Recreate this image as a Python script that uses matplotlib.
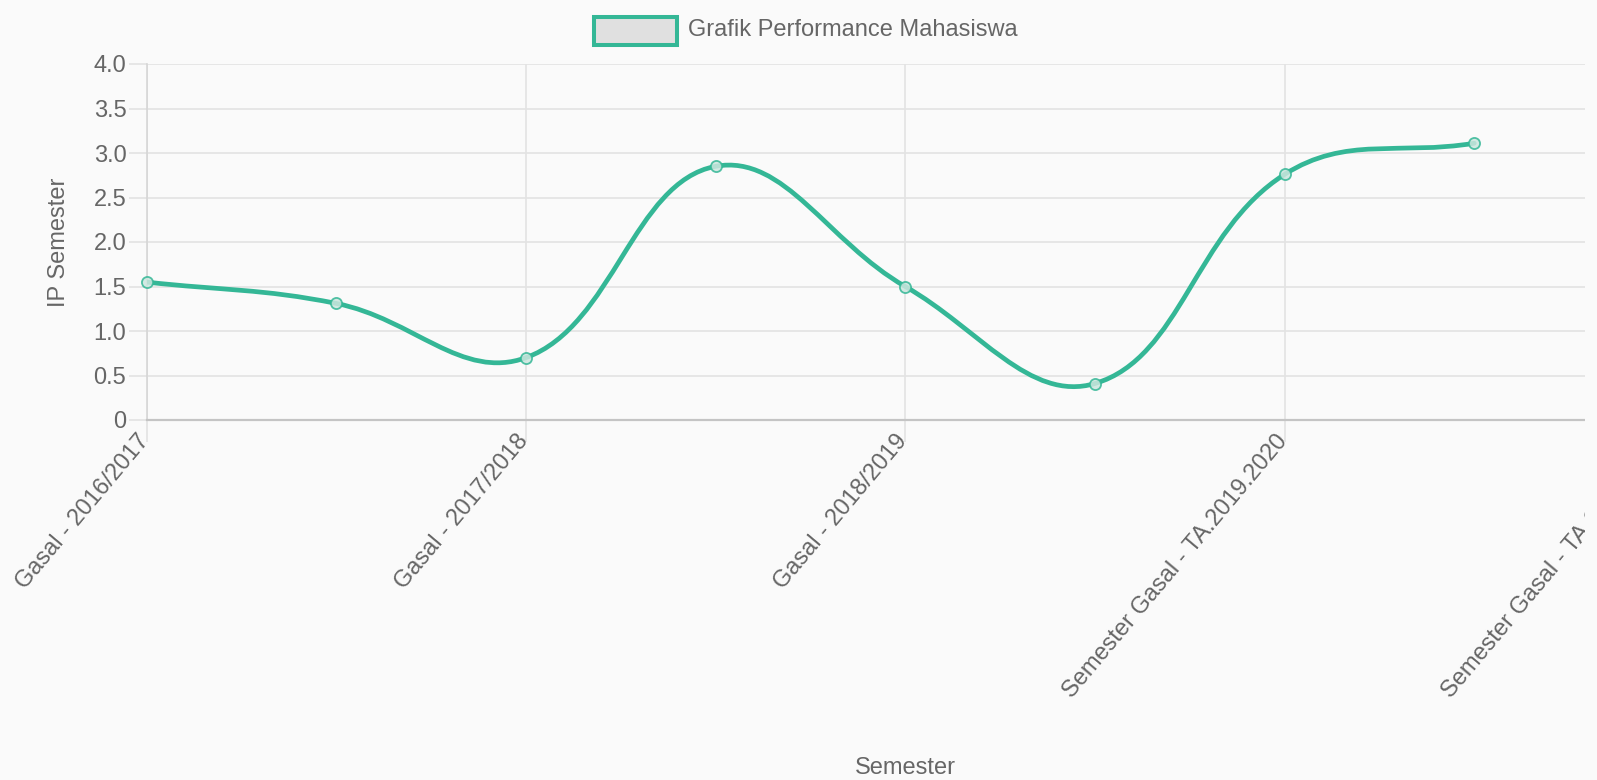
import numpy as np
import matplotlib

matplotlib.use("Agg")
import matplotlib.pyplot as plt
import matplotlib.transforms as mtransforms
from matplotlib.patches import PathPatch, Rectangle
from matplotlib.path import Path

SEMESTERS = [
    "Gasal - 2016/2017",
    "Genap - 2016/2017",
    "Gasal - 2017/2018",
    "Genap - 2017/2018",
    "Gasal - 2018/2019",
    "Genap - 2018/2019",
    "Semester Gasal - TA.2019.2020",
    "Semester Genap - TA.2019.2020",
    "Semester Gasal - TA.2020.2021",
]
IP_SEMESTER = [1.55, 1.31, 0.70, 2.85, 1.50, 0.41, 2.76, 3.11]
Y_TICKS = [0, 0.5, 1.0, 1.5, 2.0, 2.5, 3.0, 3.5, 4.0]
Y_TICK_LABELS = ["0", "0.5", "1.0", "1.5", "2.0", "2.5", "3.0", "3.5", "4.0"]
LABEL_STEP = 2
DATASET_LABEL = "Grafik Performance Mahasiswa"
X_TITLE = "Semester"
Y_TITLE = "IP Semester"

WIDTH, HEIGHT = 1597, 780
BG = "#fafafa"
LINE = "#34b796"
POINT_FACE = "#cde7df"
GRID = "#e3e3e3"
TEXT = "#666666"
FONT_SIZE = 17

plt.rcParams["font.family"] = ["Liberation Sans", "DejaVu Sans"]


def fx(px):
    return px / WIDTH


def fy(py):
    return 1 - py / HEIGHT


def spline_path(ax, xs, ys, tension=0.4):
    # chart.js style cardinal spline, computed in pixel space
    pts = ax.transData.transform(np.column_stack([xs, ys]))
    n = len(pts)
    ctrl_prev = pts.copy()
    ctrl_next = pts.copy()
    for i in range(n):
        prev = pts[i - 1] if i > 0 else pts[i]
        nxt = pts[i + 1] if i < n - 1 else pts[i]
        d01 = np.hypot(*(pts[i] - prev))
        d12 = np.hypot(*(nxt - pts[i]))
        total = d01 + d12
        s01 = d01 / total if total else 0.0
        s12 = d12 / total if total else 0.0
        ctrl_prev[i] = pts[i] - tension * s01 * (nxt - prev)
        ctrl_next[i] = pts[i] + tension * s12 * (nxt - prev)
    verts = [pts[0]]
    codes = [Path.MOVETO]
    for i in range(n - 1):
        verts += [ctrl_next[i], ctrl_prev[i + 1], pts[i + 1]]
        codes += [Path.CURVE4] * 3
    return Path(ax.transData.inverted().transform(np.array(verts)), codes)


fig = plt.figure(figsize=(WIDTH / 100, HEIGHT / 100), dpi=100, facecolor=BG)
ax = fig.add_axes([fx(146.5), fy(420), (1664 - 146.5) / WIDTH, (420 - 64) / HEIGHT])
ax.set_facecolor(BG)
ax.set_xlim(0, len(SEMESTERS) - 1)
ax.set_ylim(Y_TICKS[0], Y_TICKS[-1])

positions = np.arange(len(IP_SEMESTER))
ax.add_patch(PathPatch(spline_path(ax, positions, IP_SEMESTER), facecolor="none",
                       edgecolor=LINE, lw=3.4, capstyle="round", joinstyle="round", zorder=3))
ax.plot(positions, IP_SEMESTER, ls="none", marker="o", ms=8, mfc=POINT_FACE,
        mec=LINE, mew=1.3, alpha=0.85, zorder=4, clip_on=False)

shown = list(range(0, len(SEMESTERS), LABEL_STEP))
ax.set_xticks(shown, [SEMESTERS[i] for i in shown])
ax.set_yticks(Y_TICKS, Y_TICK_LABELS)
ax.grid(True, color=GRID, lw=1.2, zorder=0)
ax.tick_params(axis="x", length=16, width=1.2, color=GRID, pad=-3.6,
               labelsize=FONT_SIZE, labelcolor=TEXT)
ax.tick_params(axis="y", length=13, width=1.2, color=GRID, pad=1.5,
               labelsize=FONT_SIZE, labelcolor=TEXT)
label_shift = mtransforms.ScaledTranslation(-0.10, 0.07, fig.dpi_scale_trans)
for label in ax.get_xticklabels():
    label.set_rotation(50)
    label.set_ha("right")
    label.set_va("top")
    label.set_rotation_mode("anchor")
    label.set_transform(label.get_transform() + label_shift)

for side in ("top", "right"):
    ax.spines[side].set_visible(False)
ax.spines["left"].set_color("#d6d6d6")
ax.spines["left"].set_linewidth(1.2)
ax.spines["bottom"].set_color("#c4c4c4")
ax.spines["bottom"].set_linewidth(1.6)

fig.text(fx(59), fy(242), Y_TITLE, rotation=90, ha="center", va="center",
         fontsize=FONT_SIZE, color=TEXT)
fig.text(fx(905), fy(768), X_TITLE, ha="center", va="center",
         fontsize=FONT_SIZE, color=TEXT)

# legend drawn by hand, like the chart.js header
fig.add_artist(Rectangle((fx(594), fy(45)), fx(677) - fx(594), fy(17) - fy(45),
                         transform=fig.transFigure, facecolor="#e0e0e0",
                         edgecolor=LINE, lw=2.9, zorder=5))
fig.text(fx(688), fy(30), DATASET_LABEL, ha="left", va="center",
         fontsize=FONT_SIZE, color=TEXT)

# the canvas in the page is cut off on the right
fig.add_artist(Rectangle((fx(1585), 0), 1 - fx(1585), 1, transform=fig.transFigure,
                         facecolor=BG, edgecolor="none", zorder=10))

fig.savefig("out.png", dpi=100, facecolor=BG)
